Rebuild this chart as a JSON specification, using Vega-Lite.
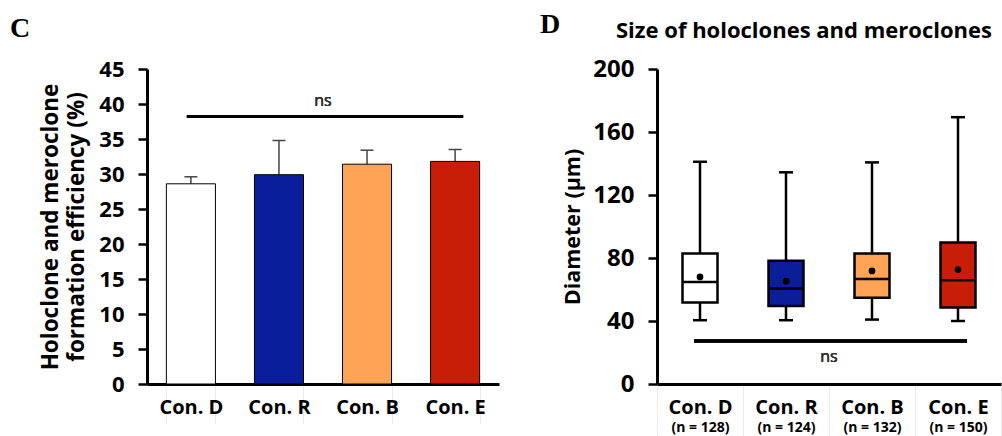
{
  "$schema": "https://vega.github.io/schema/vega-lite/v6.json",
  "padding": {"left": 10, "top": 11, "right": 0, "bottom": 0},
  "bounds": "flush",
  "spacing": 158,
  "config": {
    "view": {"stroke": null},
    "font": "Open Sans",
    "axis": {"labelColor": "black", "titleColor": "black", "domainColor": "black", "tickColor": "black", "grid": false}
  },
  "title": {"text": "D", "font": "Liberation Serif", "fontSize": 28, "fontWeight": "bold", "color": "black", "anchor": "start", "frame": "group", "dx": 393, "dy": 28},
  "datasets": {
    "left": [
      {"group": "Con. D", "value": 28.6, "upper": 29.6},
      {"group": "Con. R", "value": 29.9, "upper": 34.8},
      {"group": "Con. B", "value": 31.4, "upper": 33.4},
      {"group": "Con. E", "value": 31.8, "upper": 33.5}
    ],
    "right": [
      {"group": "Con. D", "n": "(n = 128)", "low": 40.5, "q1": 51.7, "median": 64.8, "q3": 82.9, "high": 141.1, "mean": 68.0},
      {"group": "Con. R", "n": "(n = 124)", "low": 40.5, "q1": 49.6, "median": 60.6, "q3": 78.2, "high": 134.4, "mean": 65.3},
      {"group": "Con. B", "n": "(n = 132)", "low": 40.9, "q1": 54.7, "median": 66.6, "q3": 82.9, "high": 140.7, "mean": 71.8},
      {"group": "Con. E", "n": "(n = 150)", "low": 40.0, "q1": 48.6, "median": 65.9, "q3": 89.9, "high": 169.4, "mean": 72.7}
    ]
  },
  "hconcat": [
    {
      "width": 352,
      "height": 315,
      "data": {"name": "left"},
      "title": {"text": "C", "font": "Liberation Serif", "fontSize": 28, "fontWeight": "bold", "color": "black", "anchor": "start", "frame": "group", "dx": -137, "offset": 15},
      "encoding": {
        "x": {
          "field": "group", "type": "nominal", "sort": null,
          "scale": {"paddingInner": 0.443, "paddingOuter": 0.22},
          "axis": {"title": null, "labelAngle": 0, "labelFont": "Open Sans", "labelFontSize": 20, "labelFontWeight": "bold", "domainWidth": 3, "tickBand": "extent", "tickColor": "#ececec", "tickSize": 40, "tickWidth": 1, "labelPadding": -27}
        }
      },
      "layer": [
        {
          "mark": {"type": "rule", "color": "#444444", "strokeWidth": 1.5},
          "encoding": {
            "y": {"field": "value", "type": "quantitative", "scale": {"domain": [0, 45]},
              "axis": {"title": ["Holoclone and meroclone", "formation efficiency (%)"], "titleFont": "Open Sans", "titleFontSize": 22.5, "titleFontWeight": "bold", "titleLineHeight": 26, "titlePadding": 10, "values": [0, 5, 10, 15, 20, 25, 30, 35, 40, 45], "tickCount": 10, "labelOverlap": false, "labelFont": "Open Sans", "labelFontSize": 22, "labelFontWeight": "bold", "labelPadding": 14, "tickSize": 9, "tickWidth": 2.5, "domainWidth": 3}},
            "y2": {"field": "upper"}
          }
        },
        {
          "mark": {"type": "tick", "color": "#444444", "size": 13, "thickness": 1.5, "opacity": 1},
          "encoding": {"y": {"field": "upper", "type": "quantitative",
            "axis": {"title": ["Holoclone and meroclone", "formation efficiency (%)"], "titleFont": "Open Sans", "titleFontSize": 22.5, "titleFontWeight": "bold", "titleLineHeight": 26, "titlePadding": 10, "values": [0, 5, 10, 15, 20, 25, 30, 35, 40, 45], "tickCount": 10, "labelOverlap": false, "labelFont": "Open Sans", "labelFontSize": 22, "labelFontWeight": "bold", "labelPadding": 14, "tickSize": 9, "tickWidth": 2.5, "domainWidth": 3}}}
        },
        {
          "mark": {"type": "bar", "stroke": "black", "strokeWidth": 1},
          "encoding": {
            "y": {"field": "value", "type": "quantitative",
              "axis": {"title": ["Holoclone and meroclone", "formation efficiency (%)"], "titleFont": "Open Sans", "titleFontSize": 22.5, "titleFontWeight": "bold", "titleLineHeight": 26, "titlePadding": 10, "values": [0, 5, 10, 15, 20, 25, 30, 35, 40, 45], "tickCount": 10, "labelOverlap": false, "labelFont": "Open Sans", "labelFontSize": 22, "labelFontWeight": "bold", "labelPadding": 14, "tickSize": 9, "tickWidth": 2.5, "domainWidth": 3}},
            "color": {"field": "group", "type": "nominal", "legend": null,
              "scale": {"domain": ["Con. D", "Con. R", "Con. B", "Con. E"], "range": ["#ffffff", "#0a1e9c", "#ffa357", "#c81e08"]}}
          }
        },
        {
          "mark": {"type": "rule", "color": "black", "strokeWidth": 3, "xOffset": -4, "x2Offset": 8},
          "encoding": {"x": {"datum": "Con. D", "type": "nominal"}, "x2": {"datum": "Con. E"}, "y": {"datum": 38.2, "type": "quantitative",
            "axis": {"title": ["Holoclone and meroclone", "formation efficiency (%)"], "titleFont": "Open Sans", "titleFontSize": 22.5, "titleFontWeight": "bold", "titleLineHeight": 26, "titlePadding": 10, "values": [0, 5, 10, 15, 20, 25, 30, 35, 40, 45], "tickCount": 10, "labelOverlap": false, "labelFont": "Open Sans", "labelFontSize": 22, "labelFontWeight": "bold", "labelPadding": 14, "tickSize": 9, "tickWidth": 2.5, "domainWidth": 3}}}
        },
        {
          "mark": {"type": "text", "font": "Open Sans", "fontSize": 16, "color": "#333333", "dx": 44},
          "encoding": {"x": {"datum": "Con. R", "type": "nominal"}, "y": {"datum": 40.5, "type": "quantitative",
            "axis": {"title": ["Holoclone and meroclone", "formation efficiency (%)"], "titleFont": "Open Sans", "titleFontSize": 22.5, "titleFontWeight": "bold", "titleLineHeight": 26, "titlePadding": 10, "values": [0, 5, 10, 15, 20, 25, 30, 35, 40, 45], "tickCount": 10, "labelOverlap": false, "labelFont": "Open Sans", "labelFontSize": 22, "labelFontWeight": "bold", "labelPadding": 14, "tickSize": 9, "tickWidth": 2.5, "domainWidth": 3}}, "text": {"value": "ns"}}
        }
      ]
    },
    {
      "width": 344,
      "height": 315,
      "data": {"name": "right"},
      "title": {"text": "Size of holoclones and meroclones", "font": "Open Sans", "fontSize": 22, "fontWeight": "bold", "color": "black", "anchor": "start", "frame": "group", "dx": -41, "offset": 14},
      "resolve": {"scale": {"x": "independent"}},
      "layer": [
        {
          "encoding": {
            "x": {
              "field": "group", "type": "nominal", "sort": null,
              "scale": {"paddingInner": 0, "paddingOuter": 0},
              "axis": {"title": null, "labelAngle": 0, "labelFont": "Open Sans", "labelFontSize": 20, "labelFontWeight": "bold", "domainWidth": 3, "tickBand": "extent", "tickColor": "#ececec", "tickSize": 52, "tickWidth": 1, "labelPadding": -39}
            }
          },
          "layer": [
            {
              "mark": {"type": "rule", "color": "black", "strokeWidth": 2.5},
              "encoding": {
                "y": {"field": "low", "type": "quantitative", "scale": {"domain": [0, 200]},
                  "axis": {"title": "Diameter (µm)", "titleFont": "Open Sans", "titleFontSize": 21.5, "titleFontWeight": "bold", "titlePadding": 8, "values": [0, 40, 80, 120, 160, 200], "labelOverlap": false, "labelFont": "Open Sans", "labelFontSize": 24, "labelFontWeight": "bold", "labelPadding": 14, "tickSize": 9, "tickWidth": 2.5, "domainWidth": 3}},
                "y2": {"field": "high"}
              }
            },
            {
              "mark": {"type": "tick", "color": "black", "size": 14, "thickness": 2.5, "opacity": 1},
              "encoding": {"y": {"field": "low", "type": "quantitative"}}
            },
            {
              "mark": {"type": "tick", "color": "black", "size": 14, "thickness": 2.5, "opacity": 1},
              "encoding": {"y": {"field": "high", "type": "quantitative"}}
            },
            {
              "mark": {"type": "bar", "size": 35, "stroke": "black", "strokeWidth": 2.5},
              "encoding": {
                "y": {"field": "q1", "type": "quantitative"},
                "y2": {"field": "q3"},
                "color": {"field": "group", "type": "nominal", "legend": null,
                  "scale": {"domain": ["Con. D", "Con. R", "Con. B", "Con. E"], "range": ["#ffffff", "#0a1e9c", "#ffa357", "#c81e08"]}}
              }
            },
            {
              "mark": {"type": "tick", "color": "black", "size": 35, "thickness": 2.5, "opacity": 1},
              "encoding": {"y": {"field": "median", "type": "quantitative"}}
            },
            {
              "mark": {"type": "rule", "color": "black", "strokeWidth": 3, "xOffset": -6, "x2Offset": 9},
              "encoding": {"x": {"datum": "Con. D", "type": "nominal"}, "x2": {"datum": "Con. E"}, "y": {"datum": 27.3, "type": "quantitative"}}
            },
            {
              "mark": {"type": "text", "font": "Open Sans", "fontSize": 16, "color": "#333333", "dx": 43},
              "encoding": {"x": {"datum": "Con. R", "type": "nominal"}, "y": {"datum": 17.2, "type": "quantitative"}, "text": {"value": "ns"}}
            }
          ]
        },
        {
          "mark": {"type": "point", "filled": true, "color": "black", "size": 45, "opacity": 1},
          "encoding": {
            "x": {"field": "n", "type": "nominal", "sort": null,
              "scale": {"paddingInner": 0, "paddingOuter": 0},
              "axis": {"orient": "bottom", "title": null, "labelAngle": 0, "labelFont": "Open Sans", "labelFontSize": 14, "labelFontWeight": "bold", "domain": false, "ticks": false, "labelPadding": 36}},
            "y": {"field": "mean", "type": "quantitative"}
          }
        }
      ]
    }
  ]
}
